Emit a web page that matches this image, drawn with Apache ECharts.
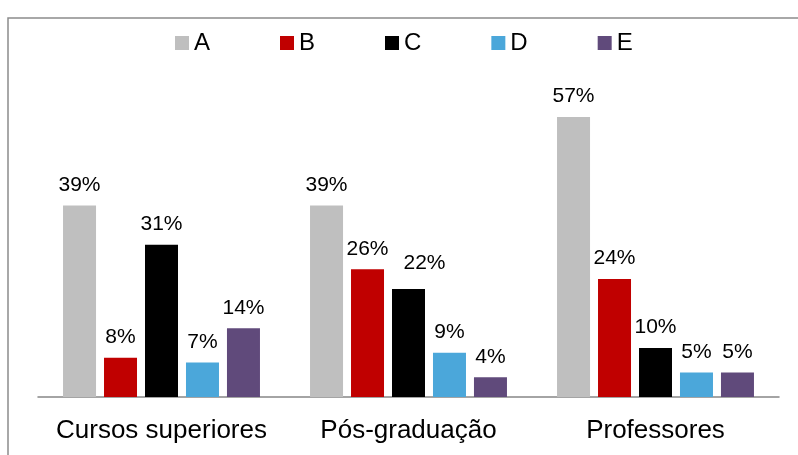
<!DOCTYPE html>
<html>
<head>
<meta charset="utf-8">
<script src="https://cdn.jsdelivr.net/npm/echarts@6/dist/echarts.min.js"></script>
<style>
  html, body { margin: 0; padding: 0; background: #fff; }
  #main { width: 798px; height: 455px; }
</style>
</head>
<body>
<div id="main"></div>
<script>
// categories and series values (percent)
var categories = ['Cursos superiores', 'Pós-graduação', 'Professores'];
var seriesNames = ['A', 'B', 'C', 'D', 'E'];
var valuesA = [39, 39, 57];
var valuesB = [8, 26, 24];
var valuesC = [31, 22, 10];
var valuesD = [7, 9, 5];
var valuesE = [14, 4, 5];
var colors = ['#BFBFBF', '#C00000', '#000000', '#4BA7DA', '#604A7B'];

var allValues = [valuesA, valuesB, valuesC, valuesD, valuesE];
var font = 'Liberation Sans, Arial, sans-serif';

var series = seriesNames.map(function (name, i) {
    var data = allValues[i].map(function (v, j) {
        // the 22% label sits nudged right/up in the original
        if (i === 2 && j === 1) {
            return { value: v, label: { offset: [16, -5] } };
        }
        return v;
    });
    return {
        name: name,
        type: 'bar',
        data: data,
        barWidth: 33,
        barGap: '24.2%',
        itemStyle: { color: colors[i] },
        label: {
            show: true,
            position: 'top',
            distance: 10,
            formatter: '{c}%',
            color: '#000',
            fontSize: 21,
            fontFamily: font
        }
    };
});

var chartDom = document.getElementById('main');
var myChart = echarts.init(chartDom);
myChart.setOption({
    animation: false,
    backgroundColor: '#fff',
    graphic: [{
        type: 'rect',
        shape: { x: 8, y: 18, width: 820, height: 460 },
        style: { fill: 'none', stroke: '#8c8c8c', lineWidth: 1.5 },
        silent: true
    }],
    legend: {
        data: seriesNames,
        left: 175,
        top: 31,
        padding: 0,
        itemWidth: 14,
        itemHeight: 14,
        itemGap: 70,
        icon: 'rect',
        textStyle: { fontSize: 24, color: '#000', fontFamily: font }
    },
    grid: { left: 38, right: 19, top: 102.3, bottom: 58 },
    xAxis: {
        type: 'category',
        data: categories,
        axisLine: { lineStyle: { color: '#868686', width: 1.5 } },
        axisTick: { show: false },
        axisLabel: { interval: 0, fontSize: 26, color: '#000', fontFamily: font, margin: 21 }
    },
    yAxis: {
        type: 'value',
        min: 0,
        max: 60,
        show: false,
        splitLine: { show: false }
    },
    series: series
});
</script>
</body>
</html>
